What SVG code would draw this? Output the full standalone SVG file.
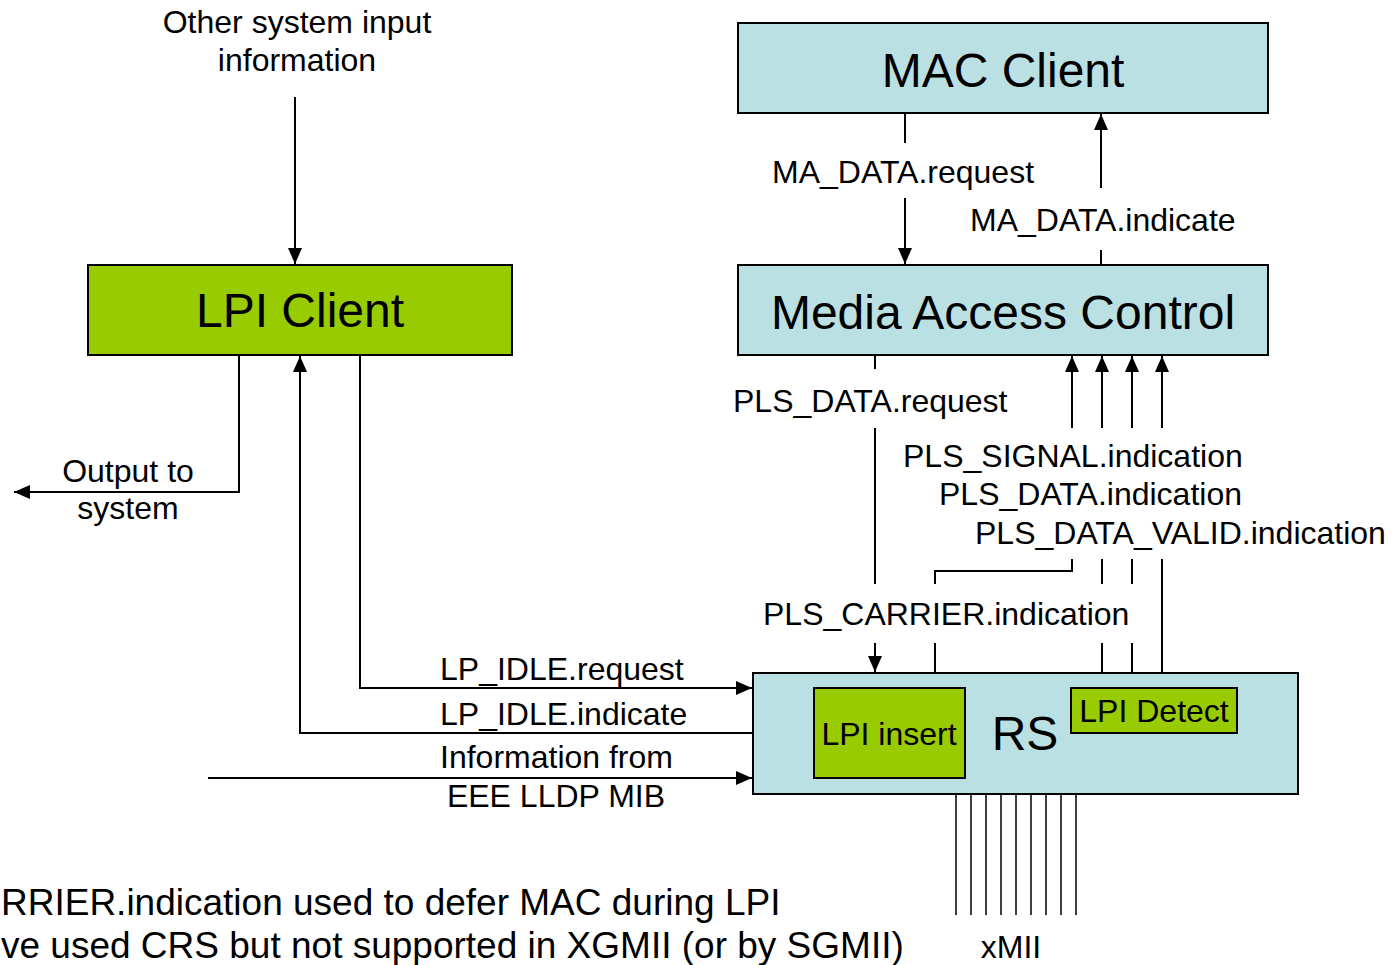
<svg xmlns="http://www.w3.org/2000/svg" width="1396" height="965" viewBox="0 0 1396 965">
<style>
text{font-family:"Liberation Sans",Arial,sans-serif;fill:#000}
.big{font-size:48px}
.lbl{font-size:32px}
.note{font-size:37px}
.blue{fill:#BBE0E3;stroke:#000;stroke-width:2}
.green{fill:#99CC00;stroke:#000;stroke-width:2}
.c{fill:none;stroke:#000;stroke-width:2}
.x{fill:none;stroke:#000;stroke-width:1.5}
</style>
<defs>
<marker id="ah" viewBox="0 0 16 14" refX="16" refY="7" markerWidth="16" markerHeight="14" markerUnits="userSpaceOnUse" orient="auto">
<path d="M0,0 L16,7 L0,14 z" fill="#000"/>
</marker>
</defs>
<rect width="1396" height="965" fill="#fff"/>

<g id="connectors">
<path class="c" d="M295,97 V264" marker-end="url(#ah)"/>
<path class="c" d="M905,113 V143"/>
<path class="c" d="M905,198 V264" marker-end="url(#ah)"/>
<path class="c" d="M1101,265 V250"/>
<path class="c" d="M1101,188 V114" marker-end="url(#ah)"/>
<path class="c" d="M875,355 V369"/>
<path class="c" d="M875,428 V584"/>
<path class="c" d="M875,643 V672" marker-end="url(#ah)"/>
<path class="c" d="M1072,428 V356" marker-end="url(#ah)"/>
<path class="c" d="M1102,428 V356" marker-end="url(#ah)"/>
<path class="c" d="M1132,428 V356" marker-end="url(#ah)"/>
<path class="c" d="M1162,428 V356" marker-end="url(#ah)"/>
<path class="c" d="M1072,559 V571 H935 V584"/>
<path class="c" d="M935,643 V673"/>
<path class="c" d="M1102,559 V584"/>
<path class="c" d="M1102,643 V673"/>
<path class="c" d="M1132,559 V584"/>
<path class="c" d="M1132,643 V673"/>
<path class="c" d="M1162,559 V673"/>
<path class="c" d="M239,355 V492 H14" marker-end="url(#ah)"/>
<path class="c" d="M360,355 V688 H752" marker-end="url(#ah)"/>
<path class="c" d="M753,733 H300 V356" marker-end="url(#ah)"/>
<path class="c" d="M208,778 H752" marker-end="url(#ah)"/>
<path class="x" d="M956,794 V915 M971,794 V915 M986,794 V915 M1001,794 V915 M1016,794 V915 M1031,794 V915 M1046,794 V915 M1061,794 V915 M1076,794 V915"/>
</g>

<g id="mac-client">
<rect class="blue" x="738" y="23" width="530" height="90"/>
<text class="big" x="1003" y="87" text-anchor="middle">MAC Client</text>
</g>
<g id="media-access-control">
<rect class="blue" x="738" y="265" width="530" height="90"/>
<text class="big" x="1003" y="329" text-anchor="middle">Media Access Control</text>
</g>
<g id="lpi-client">
<rect class="green" x="88" y="265" width="424" height="90"/>
<text class="big" x="300" y="327" text-anchor="middle">LPI Client</text>
</g>
<g id="rs">
<rect class="blue" x="753" y="673" width="545" height="121"/>
<text class="big" x="1025" y="750" text-anchor="middle">RS</text>
</g>
<g id="lpi-insert">
<rect class="green" x="814" y="688" width="151" height="90"/>
<text class="lbl" x="889" y="745" text-anchor="middle">LPI insert</text>
</g>
<g id="lpi-detect">
<rect class="green" x="1071" y="688" width="166" height="45"/>
<text class="lbl" x="1154" y="722" text-anchor="middle">LPI Detect</text>
</g>

<g id="labels">
<text class="lbl" x="297" y="33" text-anchor="middle">Other system input</text>
<text class="lbl" x="297" y="71" text-anchor="middle">information</text>
<text class="lbl" x="772" y="183">MA_DATA.request</text>
<text class="lbl" x="970" y="231">MA_DATA.indicate</text>
<text class="lbl" x="733" y="412">PLS_DATA.request</text>
<text class="lbl" x="903" y="467">PLS_SIGNAL.indication</text>
<text class="lbl" x="939" y="505">PLS_DATA.indication</text>
<text class="lbl" x="975" y="544">PLS_DATA_VALID.indication</text>
<text class="lbl" x="763" y="625">PLS_CARRIER.indication</text>
<text class="lbl" x="128" y="482" text-anchor="middle">Output to</text>
<text class="lbl" x="128" y="519" text-anchor="middle">system</text>
<text class="lbl" x="440" y="680">LP_IDLE.request</text>
<text class="lbl" x="440" y="725">LP_IDLE.indicate</text>
<text class="lbl" x="440" y="768">Information from</text>
<text class="lbl" x="556" y="807" text-anchor="middle">EEE LLDP MIB</text>
<text class="lbl" x="1011" y="958" text-anchor="middle">xMII</text>
<text class="note" x="1" y="915">RRIER.indication used to defer MAC during LPI</text>
<text class="note" x="1" y="958">ve used CRS but not supported in XGMII (or by SGMII)</text>
</g>
</svg>
